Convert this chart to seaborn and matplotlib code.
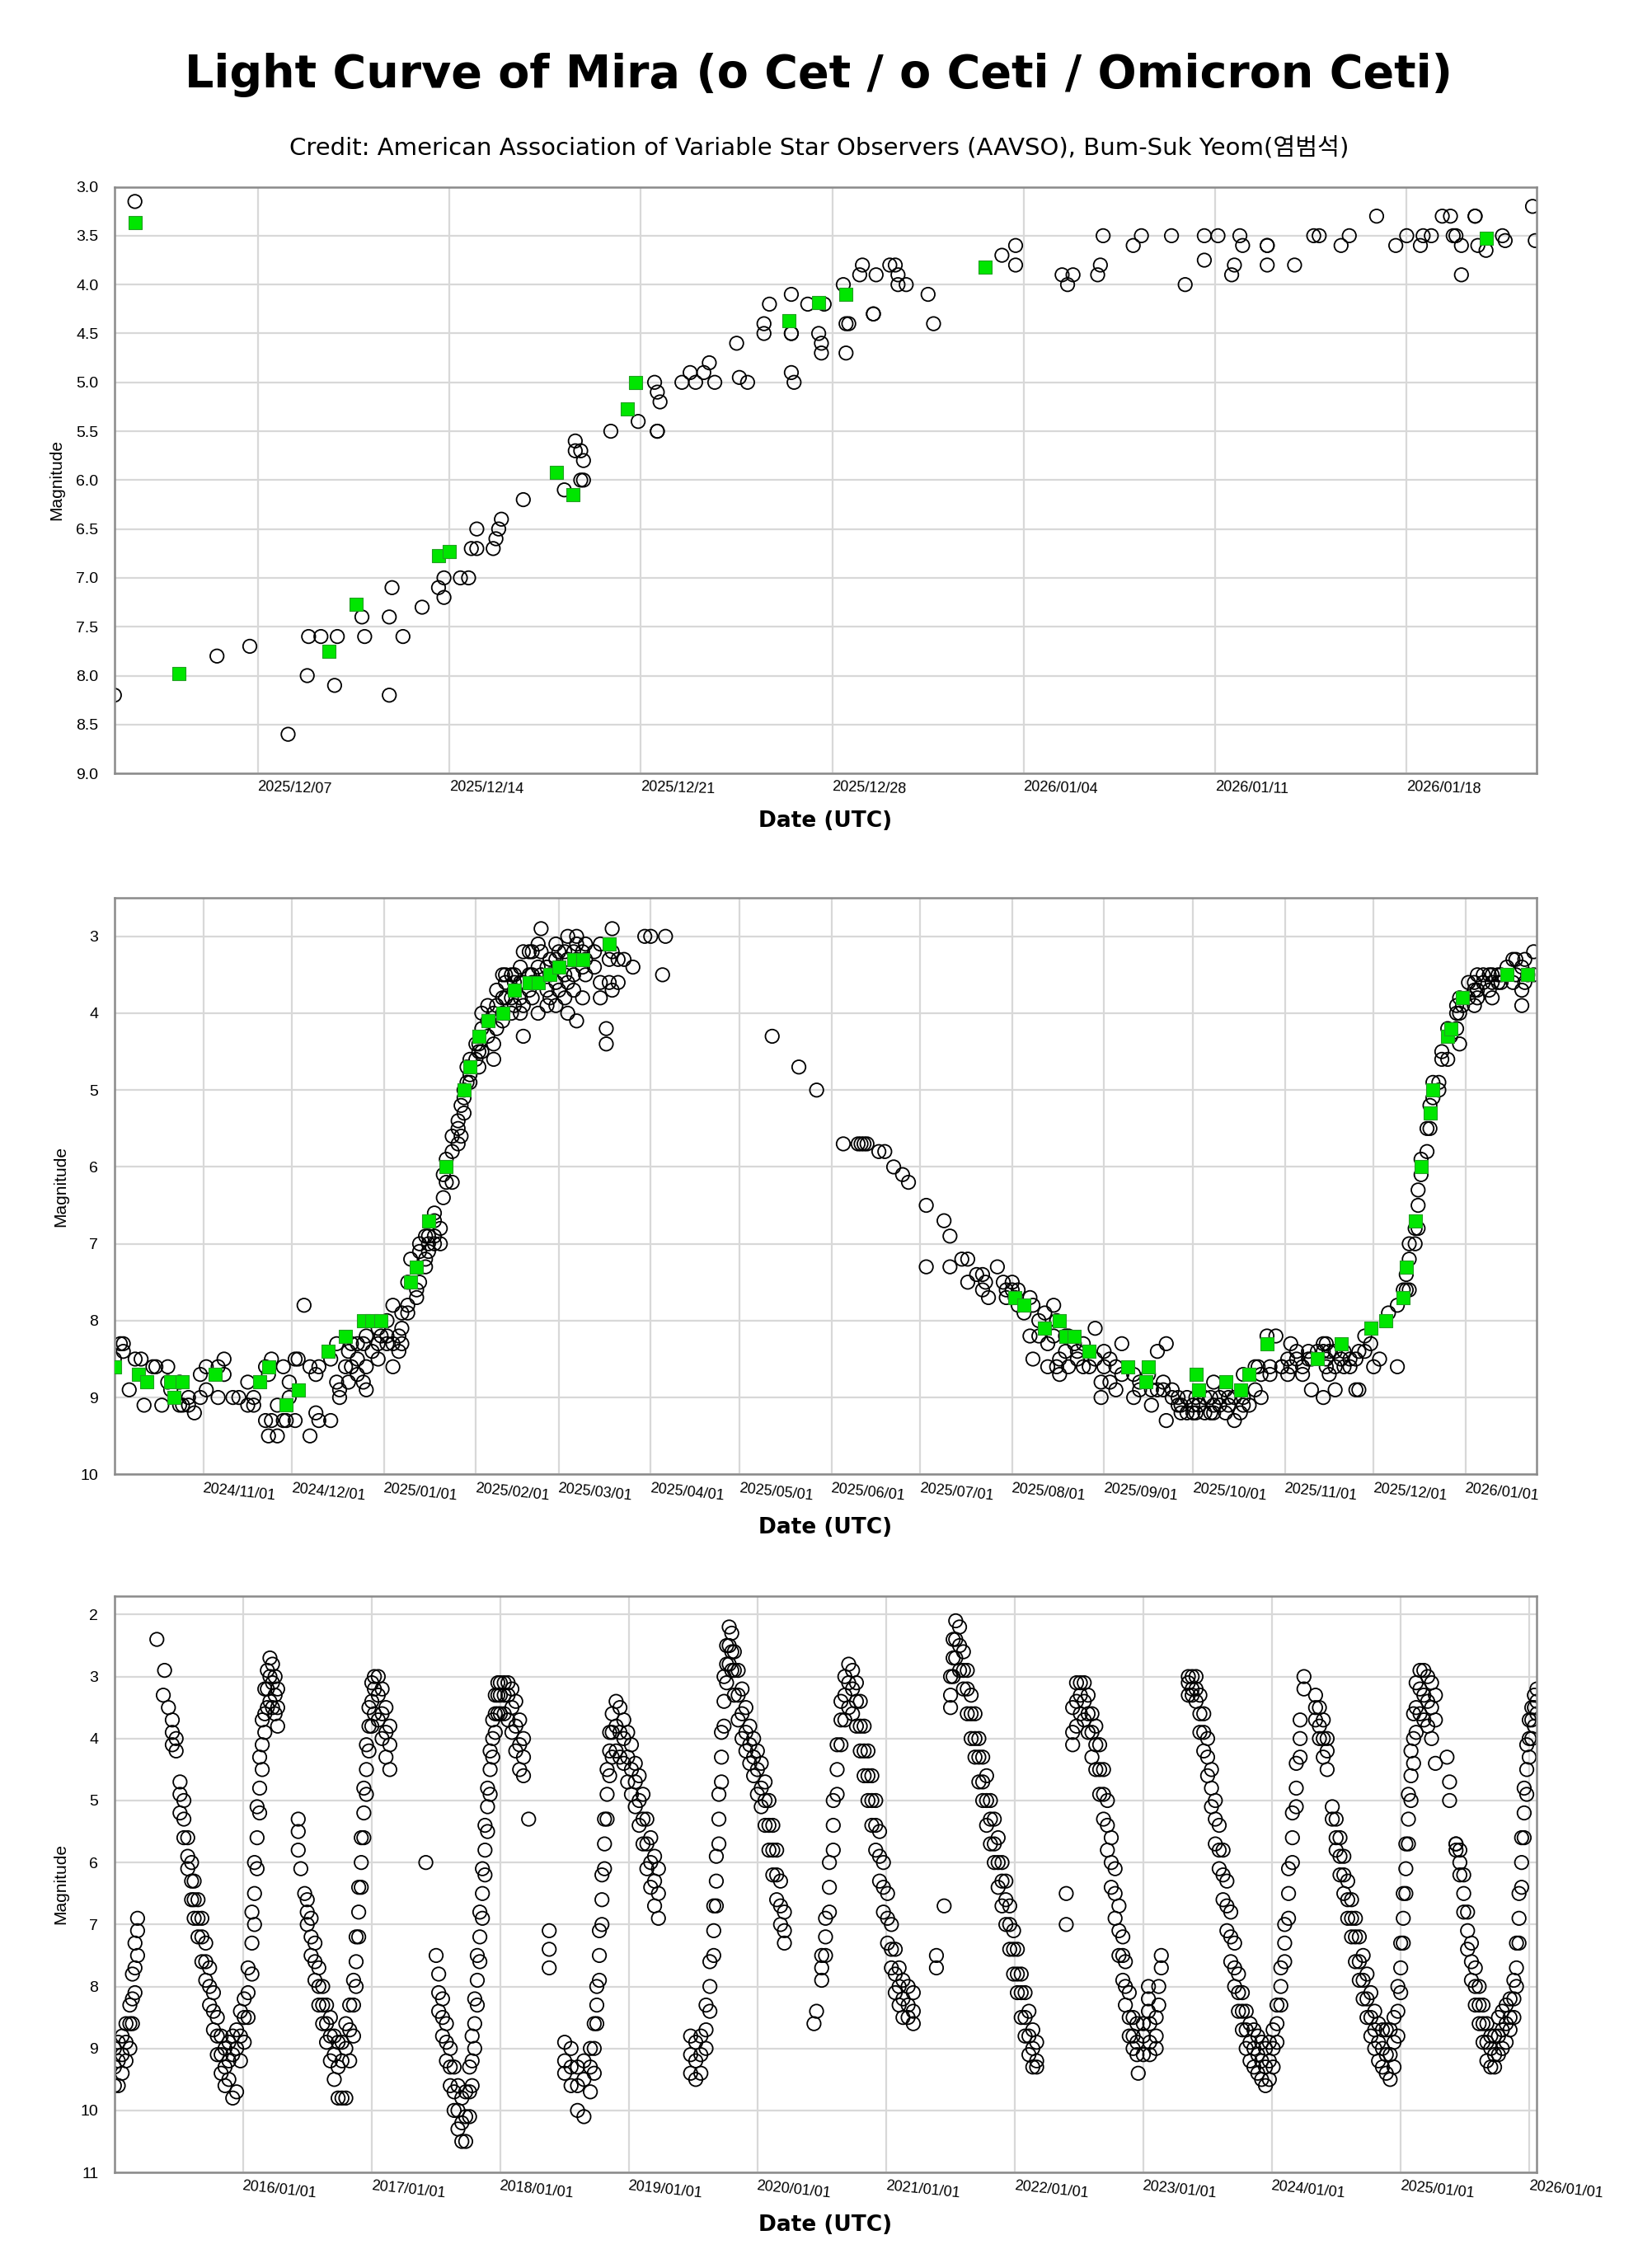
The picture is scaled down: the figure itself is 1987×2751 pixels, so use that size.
import numpy as np
import pandas as pd
import matplotlib
matplotlib.use("Agg")
import matplotlib.pyplot as plt
import matplotlib.dates as mdates
import seaborn as sns

sns.set_theme(style="white")
plt.rcParams['font.family'] = ['DejaVu Sans', 'Noto Sans CJK KR']
plt.rcParams['text.color'] = 'black'
plt.rcParams['axes.labelcolor'] = 'black'
plt.rcParams['xtick.color'] = 'black'
plt.rcParams['ytick.color'] = 'black'

# ---------------- panel 1: last ~7 weeks (days since 2025-12-01) ----------------
top_vis = """
0.75:8.2; 1.5:3.15; 4.5:7.8; 5.7:7.7; 7.1:8.6; 7.8:8.0; 7.85:7.6; 8.3:7.6; 8.8:8.1; 8.9:7.6;
9.8:7.4; 9.9:7.6; 10.8:8.2,7.4; 10.9:7.1; 11.3:7.6; 12.0:7.3; 12.6:7.1; 12.8:7.0,7.2;
13.4:7.0; 13.7:7.0; 13.8:6.7; 14.0:6.7,6.5; 14.6:6.7; 14.7:6.6; 14.8:6.5; 14.9:6.4; 15.7:6.2;
17.2:6.1; 17.6:5.6,5.7; 17.8:6.0,5.7; 17.9:5.8,6.0; 18.9:5.5; 19.9:5.4; 20.5:5.0; 20.6:5.1,5.5,5.5;
20.7:5.2; 21.5:5.0; 21.8:4.9; 22.0:5.0; 22.3:4.9; 22.5:4.8; 22.7:5.0; 23.5:4.6; 23.6:4.95; 23.9:5.0;
24.5:4.4,4.5; 24.7:4.2; 25.5:4.5,4.5,4.9,4.1; 25.6:5.0; 26.1:4.2; 26.5:4.5; 26.6:4.6,4.7; 26.7:4.2;
27.4:4.0; 27.5:4.4,4.7; 27.6:4.4; 28.0:3.9; 28.1:3.8; 28.5:4.3,4.3; 28.6:3.9; 29.1:3.8; 29.3:3.8;
29.4:4.0,3.9; 29.7:4.0; 30.5:4.1; 30.7:4.4; 33.2:3.7; 33.7:3.8,3.6; 35.4:3.9; 35.6:4.0; 35.8:3.9;
36.7:3.9; 36.8:3.8; 36.9:3.5; 38.0:3.6; 38.3:3.5; 39.4:3.5; 39.9:4.0; 40.6:3.75,3.5; 41.1:3.5;
41.6:3.9; 41.7:3.8; 41.9:3.5; 42.0:3.6; 42.9:3.6,3.6,3.8; 43.9:3.8; 44.6:3.5; 44.8:3.5; 45.6:3.6;
45.9:3.5; 46.9:3.3; 47.6:3.6; 48.0:3.5; 48.5:3.6; 48.6:3.5; 48.9:3.5; 49.3:3.3; 49.6:3.3;
49.7:3.5; 49.8:3.5; 50.0:3.9,3.6; 50.5:3.3,3.3; 50.6:3.6; 50.9:3.65; 51.5:3.5; 51.6:3.55;
52.6:3.2; 52.7:3.55
"""
top_green = """
1.5:3.37; 3.1:7.98; 8.6:7.75; 9.6:7.27; 12.6:6.77; 13.0:6.73; 16.9:5.92; 17.5:6.15; 19.5:5.27;
19.8:5.0; 25.4:4.37; 26.5:4.18; 27.5:4.1; 32.6:3.82; 50.9:3.53
"""

# ---------------- panel 2: last ~15 months (days since 2024-11-01) ----------------
mid_vis = """
-30:8.5; -28:8.3; -27:8.3,8.4; -25:8.9; -23:8.5; -21:8.5; -20:9.1; -17:8.6; -16:8.6; -14:9.1;
-12:8.6,8.8; -11:8.9; -8:8.8,9.1; -7:9.1; -5:9.1,9.0; -3:9.2; -1:8.7,9.0; 1:8.6,8.9; 5:8.6,9.0;
7:8.5,8.7; 10:9.0; 12:9.0; 15:9.1,8.8; 17:9.1,9.0; 21:9.3,8.6; 22:9.5,8.7; 23:8.5,9.3; 25:9.5,9.1;
27:9.3,8.6; 28:9.3; 29:9.0,8.8; 31:8.5,9.3; 32:8.5; 34:7.8; 36:8.6,9.5; 38:8.7,9.2; 39:9.3,8.6;
43:8.5,9.3; 45:8.3,8.8; 46:9.0,8.9; 48:8.6; 49:8.4,8.8; 50:8.3,8.6; 52:8.3,8.7,8.5; 54:8.3,8.8;
55:8.2,8.6,8.9; 57:8.4; 59:8.1,8.5,8.3; 60:8.2; 62:8.0,8.2,8.3; 64:7.8,8.3,8.6; 66:8.2,8.4;
67:7.9,8.1,8.3; 69:7.5,7.8,7.9; 70:7.2; 72:7.6,7.7; 73:7.0,7.1,7.5; 75:7.2,6.9,7.3; 76:6.9,7.0,7.1;
78:6.7,6.6,7.0,6.9; 80:6.8,7.0; 81:6.1,6.4; 82:5.9,6.2; 84:5.6,5.8,6.2; 86:5.4,5.5,5.7; 87:5.2,5.6;
88:5.0,5.3,5.1; 89:4.7,4.9; 90:4.6,4.8,4.9; 92:4.4,4.6; 93:4.5,4.7,4.4; 94:4.2,4.0,4.5;
96:3.9,4.1,4.3; 98:4.0,4.4,4.6; 99:3.9,3.7,4.2; 101:3.5,3.8,4.0,4.1; 102:3.6,3.8,3.5;
104:3.5,3.8,4.0; 105:3.5,3.7,3.9,3.6; 107:3.4,3.6,3.8,4.0; 108:3.2,3.6,3.9,4.3; 110:3.5,3.7,3.2;
111:3.2,3.5,3.8,3.6; 113:3.1,3.4,3.6,4.0; 114:2.9,3.2,3.5; 116:3.4,3.7,3.9; 117:3.3,3.5,3.8;
119:3.1,3.3,3.6,3.9; 120:3.2,3.4,3.7; 122:3.2,3.5,3.8; 123:3.0,3.3,3.6,4.0; 125:3.2,3.5,3.7;
126:3.0,3.1,3.3,4.1; 128:3.2,3.4,3.8; 129:3.1,3.3,3.5; 132:3.2,3.4; 134:3.1,3.6,3.8; 136:4.2,4.4;
137:3.3,3.6; 138:2.9,3.2,3.7; 140:3.3,3.6; 142:3.3; 145:3.4; 149:3.0; 151:3.0; 155:3.5; 156:3.0;
192:4.3; 201:4.7; 207:5.0; 216:5.7; 221:5.7; 222:5.7; 223:5.7; 224:5.7; 228:5.8; 230:5.8; 233:6.0;
236:6.1; 238:6.2; 244:6.5,7.3; 250:6.7; 252:6.9,7.3; 256:7.2; 258:7.2,7.5; 261:7.4; 263:7.4,7.6;
264:7.5; 265:7.7; 268:7.3; 270:7.5; 271:7.6,7.7; 273:7.5,7.6; 274:7.7; 275:7.6,7.8; 277:7.9;
279:7.7,8.2; 280:7.8,8.5; 282:8.0,8.2; 284:7.9; 285:8.3,8.6; 287:7.8,8.2; 288:8.6,8.0; 289:8.5,8.7;
291:8.2,8.4; 292:8.2,8.6; 294:8.3; 295:8.4,8.5; 297:8.3,8.6; 299:8.6; 301:8.1,8.5; 303:9.0,8.8;
304:8.6,8.4; 306:8.8,8.5; 308:8.9,8.6; 310:8.3,8.7; 314:8.7,9.0; 316:8.9,8.8; 319:8.7; 320:9.1,8.9;
322:8.4,8.9; 324:8.8,8.9; 325:8.3,9.3; 327:8.9,9.0; 329:9.0,9.1; 330:9.1,9.2; 332:9.2,9.0;
334:9.1,9.2; 335:9.2,9.0; 336:9.1; 338:9.0,9.2; 340:9.2,9.0; 341:9.1,9.2,8.8; 343:9.0,9.1;
345:9.2,8.9; 346:9.0,9.1; 348:9.3,9.0; 350:9.2; 351:9.0,9.1,8.7; 353:9.1; 355:8.9,8.6; 356:8.6;
357:8.7,9.0; 359:8.2; 360:8.6,8.7; 362:8.2; 364:8.6,8.6; 366:8.5,8.7; 367:8.6,8.3; 369:8.4,8.5;
371:8.6,8.7; 373:8.5,8.4; 374:8.9,8.5; 376:8.4; 378:8.3,8.4,9.0; 379:8.5,8.6,8.3; 380:8.4,8.7;
382:8.4,8.6,8.9; 384:8.5; 385:8.4,8.6; 387:8.6,8.5; 389:8.5,8.9; 390:8.4,8.9; 392:8.2,8.4; 394:8.3;
395:8.6; 397:8.5; 400:7.9; 403:7.8,8.6; 405:7.6; 406:7.6,7.4; 407:7.0,7.6,7.2; 409:6.8,7.0;
410:6.5,6.3,6.8; 411:6.1,5.9; 413:5.8,5.5; 414:5.5,5.2; 415:5.1,4.9; 417:4.9,5.0; 418:4.6,4.5;
420:4.2,4.6; 421:4.3; 423:3.9,4.0,4.2; 424:3.8,4.0,4.4; 425:3.9; 427:3.8,3.6; 429:3.7,3.6,3.9;
430:3.5,3.7,3.8; 432:3.5,3.6; 434:3.5,3.7; 435:3.5,3.6,3.8; 437:3.5,3.6; 438:3.5,3.6; 440:3.4;
442:3.3,3.6; 443:3.3,3.5; 445:3.4,3.7,3.9; 446:3.3,3.6; 447:3.5; 449:3.2,3.5
"""
mid_green = """
-30:8.6; -22:8.7; -19:8.8; -11:8.8; -10:9.0; -7:8.8; 4:8.7; 19:8.8; 22:8.6; 28:9.1; 32:8.9; 42:8.4;
48:8.2; 54:8.0; 57:8.0; 60:8.0; 70:7.5; 72:7.3; 76:6.7; 82:6.0; 88:5.0; 90:4.7; 93:4.3; 96:4.1;
101:4.0; 105:3.7; 110:3.6; 113:3.6; 117:3.5; 120:3.4; 125:3.3; 128:3.3; 137:3.1;
274:7.7; 277:7.8; 284:8.1; 289:8.0; 291:8.2; 294:8.2; 299:8.4; 312:8.6; 318:8.8; 319:8.6;
335:8.7; 336:8.9; 345:8.8; 350:8.9; 353:8.7; 359:8.3; 376:8.5; 384:8.3; 394:8.1; 399:8.0;
405:7.7; 406:7.3; 409:6.7; 411:6.0; 414:5.3; 415:5.0; 420:4.3; 421:4.2; 425:3.8; 440:3.5; 447:3.5
"""

# ---------------- panel 3: 2015-2026 (decimal years) ----------------
long_vis = """
2015.00:9.0,9.3,9.6; 2015.03:8.9,9.2,9.6; 2015.06:8.8,9.1,9.4; 2015.09:8.6,8.9,9.2; 2015.12:8.3,8.6,9.0;
2015.14:7.8,8.2,8.6; 2015.16:7.3,7.7,8.1; 2015.18:6.9,7.1,7.5;
2015.33:2.4; 2015.38:3.3; 2015.39:2.9; 2015.42:3.5; 2015.45:3.7,3.9,4.1; 2015.48:4.0,4.2;
2015.51:4.7,4.9,5.2; 2015.54:5.0,5.3,5.6; 2015.57:5.6,5.9,6.1; 2015.60:6.0,6.3,6.6; 2015.62:6.3,6.6,6.9;
2015.65:6.6,6.9,7.2; 2015.68:6.9,7.2,7.6; 2015.71:7.3,7.6,7.9; 2015.74:7.7,8.0,8.3; 2015.77:8.1,8.4,8.7;
2015.80:8.5,8.8,9.1; 2015.83:8.8,9.1,9.4; 2015.86:9.0,9.3,9.6; 2015.89:8.9,9.2,9.5; 2015.92:8.8,9.1,9.8;
2015.95:8.7,9.0,9.7; 2015.98:8.4,8.8,9.2; 2016.01:8.2,8.5,8.9; 2016.04:7.7,8.1,8.5; 2016.07:6.8,7.3,7.8;
2016.09:6.0,6.5,7.0; 2016.11:5.1,5.6,6.1; 2016.13:4.3,4.8,5.2; 2016.15:3.7,4.1,4.5; 2016.17:3.2,3.6,3.9;
2016.19:2.9,3.2,3.5; 2016.21:2.7,3.0,3.4; 2016.23:2.8,3.1,3.5; 2016.25:3.0,3.3,3.6; 2016.27:3.2,3.5,3.8;
2016.43:5.3,5.5,5.8; 2016.45:6.1; 2016.48:6.5; 2016.50:6.6,6.8,7.0; 2016.53:6.9,7.2,7.5; 2016.56:7.3,7.6,7.9;
2016.59:7.7,8.0,8.3; 2016.62:8.0,8.3,8.6; 2016.65:8.3,8.6,8.9; 2016.68:8.5,8.8,9.2; 2016.71:8.8,9.1,9.5;
2016.74:8.9,9.3,9.8; 2016.77:8.9,9.2,9.8; 2016.80:8.6,9.0,9.8; 2016.83:8.3,8.7,9.2; 2016.86:7.9,8.3,8.8;
2016.88:7.2,7.6,8.0; 2016.90:6.4,6.8,7.2; 2016.92:5.6,6.0,6.4; 2016.94:4.8,5.2,5.6; 2016.96:4.1,4.5,4.9;
2016.98:3.5,3.8,4.2; 2017.00:3.1,3.4,3.8; 2017.02:3.0,3.2,3.6; 2017.05:3.0,3.3,3.7; 2017.08:3.2,3.6,4.0;
2017.11:3.5,3.9,4.3; 2017.14:3.8,4.1,4.5;
2017.42:6.0; 2017.50:7.5; 2017.52:7.8,8.1,8.4; 2017.55:8.2,8.5,8.8; 2017.58:8.6,8.9,9.2; 2017.61:9.0,9.3,9.6;
2017.64:9.3,9.7,10.0; 2017.67:9.6,10.0,10.3; 2017.70:9.8,10.2,10.5; 2017.73:9.7,10.1,10.5;
2017.76:9.3,9.7,10.1; 2017.78:8.8,9.2,9.6; 2017.80:8.2,8.6,9.0; 2017.82:7.5,7.9,8.3; 2017.84:6.8,7.2,7.6;
2017.86:6.1,6.5,6.9; 2017.88:5.4,5.8,6.2; 2017.90:4.8,5.1,5.5; 2017.92:4.2,4.5,4.9; 2017.94:3.7,4.0,4.3;
2017.96:3.3,3.6,3.9; 2017.98:3.1,3.3,3.6; 2018.00:3.1,3.3,3.6; 2018.03:3.1,3.3,3.6; 2018.06:3.1,3.3,3.7;
2018.09:3.2,3.5,3.9; 2018.12:3.4,3.8,4.2; 2018.15:3.7,4.1,4.5; 2018.18:4.0,4.3,4.6; 2018.22:5.3;
2018.38:7.1,7.4,7.7;
2018.50:8.9,9.2,9.4; 2018.55:9.0,9.3,9.6; 2018.60:9.3,9.6,10.0; 2018.65:9.2,9.5,10.1; 2018.70:9.0,9.3,9.7;
2018.73:8.6,9.0,9.4; 2018.75:8.0,8.3,8.6; 2018.77:7.1,7.5,7.9; 2018.79:6.2,6.6,7.0; 2018.81:5.3,5.7,6.1;
2018.83:4.5,4.9,5.3; 2018.85:3.9,4.2,4.6; 2018.87:3.6,3.9,4.3; 2018.90:3.4,3.8,4.2; 2018.93:3.5,3.9,4.3;
2018.96:3.7,4.0,4.4; 2018.99:3.9,4.3,4.7; 2019.02:4.1,4.5,4.9; 2019.05:4.4,4.7,5.1; 2019.08:4.6,5.0,5.4;
2019.11:4.9,5.3,5.7; 2019.14:5.3,5.7,6.1; 2019.17:5.6,6.0,6.4; 2019.20:5.9,6.3,6.7; 2019.23:6.1,6.5,6.9;
2019.48:8.8,9.1,9.4; 2019.52:8.9,9.2,9.5; 2019.56:8.8,9.1,9.4; 2019.60:8.3,8.7,9.0; 2019.63:7.6,8.0,8.4;
2019.66:6.7,7.1,7.5; 2019.68:5.9,6.3,6.7; 2019.70:4.9,5.3,5.7; 2019.72:3.9,4.3,4.7; 2019.74:3.0,3.4,3.8;
2019.76:2.5,2.8,3.1; 2019.78:2.2,2.5,2.8; 2019.80:2.3,2.6,2.9; 2019.82:2.6,2.9,3.3; 2019.85:2.9,3.3,3.7;
2019.88:3.2,3.6,4.0; 2019.91:3.5,3.9,4.2; 2019.94:3.8,4.1,4.4; 2019.97:4.0,4.3,4.6; 2020.00:4.2,4.5,4.9;
2020.03:4.4,4.8,5.1; 2020.06:4.7,5.0,5.4; 2020.09:5.0,5.4,5.8; 2020.12:5.4,5.8,6.2; 2020.15:5.8,6.2,6.6;
2020.18:6.3,6.7,7.0; 2020.21:6.8,7.1,7.3;
2020.44:8.6; 2020.46:8.4; 2020.50:7.5,7.7,7.9; 2020.53:6.9,7.2,7.5; 2020.56:6.0,6.4,6.8; 2020.59:5.0,5.4,5.8;
2020.62:4.1,4.5,4.9; 2020.65:3.4,3.7,4.1; 2020.68:3.0,3.3,3.7; 2020.71:2.8,3.1,3.5; 2020.74:2.9,3.2,3.6;
2020.77:3.1,3.4,3.8; 2020.80:3.4,3.8,4.2; 2020.83:3.8,4.2,4.6; 2020.86:4.2,4.6,5.0; 2020.89:4.6,5.0,5.4;
2020.92:5.0,5.4,5.8; 2020.95:5.5,5.9,6.3; 2020.98:6.0,6.4,6.8; 2021.01:6.5,6.9,7.3; 2021.04:7.0,7.4,7.7;
2021.07:7.4,7.8,8.1; 2021.10:7.7,8.0,8.3; 2021.13:7.9,8.2,8.5; 2021.17:8.0,8.3,8.5; 2021.21:8.1,8.4,8.6;
2021.39:7.5,7.7; 2021.45:6.7;
2021.50:3.0,3.3,3.5; 2021.52:2.4,2.7,3.0; 2021.54:2.1,2.4,2.7; 2021.57:2.2,2.5,2.9; 2021.60:2.6,2.9,3.2;
2021.63:2.9,3.2,3.6; 2021.66:3.3,3.6,4.0; 2021.69:3.6,4.0,4.3; 2021.72:4.0,4.3,4.7; 2021.75:4.3,4.7,5.0;
2021.78:4.6,5.0,5.4; 2021.81:5.0,5.3,5.7; 2021.84:5.3,5.7,6.0; 2021.87:5.6,6.0,6.4; 2021.90:6.0,6.3,6.7;
2021.93:6.3,6.6,7.0; 2021.96:6.7,7.0,7.4; 2021.99:7.1,7.4,7.8; 2022.02:7.4,7.8,8.1; 2022.05:7.8,8.1,8.5;
2022.08:8.1,8.5,8.8; 2022.11:8.4,8.8,9.1; 2022.14:8.7,9.0,9.3; 2022.17:8.9,9.2,9.3;
2022.40:6.5,7.0;
2022.45:3.5,3.9,4.1; 2022.48:3.1,3.4,3.8; 2022.51:3.1,3.3,3.6; 2022.54:3.1,3.4,3.7; 2022.57:3.3,3.6,3.9;
2022.60:3.6,3.9,4.3; 2022.63:3.8,4.1,4.5; 2022.66:4.1,4.5,4.9; 2022.69:4.5,4.9,5.3; 2022.72:5.0,5.4,5.8;
2022.75:5.6,6.0,6.4; 2022.78:6.1,6.5,6.9; 2022.81:6.7,7.1,7.5; 2022.84:7.2,7.5,7.9; 2022.86:7.6,8.0,8.3;
2022.89:8.1,8.5,8.8; 2022.92:8.5,8.8,9.0; 2022.95:8.6,8.9,9.1; 2022.96:9.4; 2023.00:8.6,8.8,9.1;
2023.04:8.0,8.2,8.4; 2023.05:8.6,8.9,9.1; 2023.10:8.5,8.8,9.0; 2023.12:8.0,8.3; 2023.14:7.5,7.7;
2023.35:3.0,3.1,3.3; 2023.38:3.0,3.2,3.3; 2023.41:3.0,3.2,3.4; 2023.44:3.3,3.6,3.9; 2023.47:3.6,3.9,4.2;
2023.50:4.0,4.3,4.6; 2023.53:4.5,4.8,5.1; 2023.56:5.0,5.3,5.7; 2023.59:5.4,5.8,6.1; 2023.62:5.8,6.2,6.6;
2023.65:6.3,6.7,7.1; 2023.68:6.8,7.2,7.6; 2023.71:7.3,7.7,8.0; 2023.74:7.8,8.1,8.4; 2023.77:8.1,8.4,8.7;
2023.80:8.4,8.7,9.0; 2023.83:8.6,8.9,9.2; 2023.86:8.7,9.0,9.3; 2023.89:8.8,9.1,9.4; 2023.92:8.9,9.2,9.5;
2023.95:9.0,9.3,9.6; 2023.98:8.9,9.2,9.5; 2024.01:8.7,9.0,9.3; 2024.04:8.3,8.6,8.9; 2024.07:7.7,8.0,8.3;
2024.10:7.0,7.3,7.6; 2024.13:6.1,6.5,6.9; 2024.16:5.2,5.6,6.0; 2024.19:4.4,4.8,5.1; 2024.22:3.7,4.0,4.3;
2024.25:3.0,3.2;
2024.34:3.3,3.5,3.7; 2024.37:3.5,3.8,4.0; 2024.40:3.7,4.0,4.3; 2024.43:4.0,4.2,4.5; 2024.47:5.1,5.3;
2024.50:5.3,5.6,5.8; 2024.53:5.6,5.9,6.2; 2024.56:5.9,6.2,6.5; 2024.59:6.3,6.6,6.9; 2024.62:6.6,6.9,7.2;
2024.65:6.9,7.2,7.6; 2024.68:7.2,7.6,7.9; 2024.71:7.5,7.9,8.2; 2024.74:7.8,8.2,8.5; 2024.77:8.1,8.5,8.8;
2024.80:8.4,8.7,9.0; 2024.83:8.6,8.9,9.2; 2024.86:8.7,9.0,9.3; 2024.89:8.7,9.1,9.4; 2024.92:8.7,9.1,9.5;
2024.95:8.5,8.9,9.3; 2024.98:8.0,8.4,8.8; 2025.00:7.3,7.7,8.1; 2025.02:6.5,6.9,7.3; 2025.04:5.7,6.1,6.5;
2025.06:4.9,5.3,5.7; 2025.08:4.2,4.6,5.0; 2025.10:3.6,4.0,4.4; 2025.12:3.1,3.5,3.9; 2025.15:2.9,3.2,3.6;
2025.18:2.9,3.3,3.7; 2025.21:3.0,3.4,3.8; 2025.24:3.1,3.5,4.0; 2025.27:3.3,3.7,4.4;
2025.36:4.3; 2025.38:4.7,5.0;
2025.43:5.7,5.7,5.8; 2025.46:5.8,6.0,6.2; 2025.49:6.2,6.5,6.8; 2025.52:6.8,7.1,7.4; 2025.55:7.3,7.6,7.9;
2025.58:7.7,8.0,8.3; 2025.61:8.0,8.3,8.6; 2025.64:8.3,8.6,8.9; 2025.67:8.6,8.9,9.2; 2025.70:8.8,9.0,9.3;
2025.73:8.8,9.1,9.3; 2025.76:8.5,8.8,9.1; 2025.79:8.4,8.7,9.0; 2025.82:8.3,8.6,8.9; 2025.85:8.2,8.5,8.7;
2025.88:7.9,8.2,8.5; 2025.90:7.3,7.7,8.0; 2025.92:6.5,6.9,7.3; 2025.94:5.6,6.0,6.4; 2025.96:4.8,5.2,5.6;
2025.98:4.1,4.5,4.9; 2026.00:3.7,4.0,4.3; 2026.02:3.5,3.7,4.0; 2026.04:3.3,3.5,3.8; 2026.06:3.2,3.4,3.6
"""


def parse_block(text):
    xs, ys = [], []
    for item in text.replace("\n", " ").split(";"):
        item = item.strip()
        if not item:
            continue
        t, mags = item.split(":")
        for m in mags.split(","):
            xs.append(float(t))
            ys.append(float(m))
    return np.array(xs), np.array(ys)


def days_to_dates(base, days):
    return pd.Timestamp(base) + pd.to_timedelta(days, unit="D")


def years_to_dates(years):
    yi = np.floor(years).astype(int)
    out = [pd.Timestamp(f"{y}-01-01") + pd.Timedelta(days=float(f) * 365.25)
           for y, f in zip(yi, years - yi)]
    return pd.DatetimeIndex(out)


tx, ty = parse_block(top_vis)
gx, gy = parse_block(top_green)
df_top = pd.DataFrame({"date": days_to_dates("2025-12-01", tx), "mag": ty})
df_top_g = pd.DataFrame({"date": days_to_dates("2025-12-01", gx), "mag": gy})

mx, my = parse_block(mid_vis)
mgx, mgy = parse_block(mid_green)
df_mid = pd.DataFrame({"date": days_to_dates("2024-11-01", mx), "mag": my})
df_mid_g = pd.DataFrame({"date": days_to_dates("2024-11-01", mgx), "mag": mgy})

lx, ly = parse_block(long_vis)
df_long = pd.DataFrame({"date": years_to_dates(lx), "mag": ly})

# ---------------- figure ----------------
W, H = 1131, 1566  # layout reference units
fig = plt.figure(figsize=(19.87, 27.51), dpi=100)


def axes_box(x0, x1, y0, y1):
    return [x0 / W, 1 - y1 / H, (x1 - x0) / W, (y1 - y0) / H]


TICK_FAM = ['Liberation Sans', 'DejaVu Sans']
grid_col = "#d8d8d8"


def style_axes(ax):
    ax.grid(True, color=grid_col, linewidth=1.6)
    ax.set_axisbelow(True)
    for s in ax.spines.values():
        s.set_color("#8a8a8a")
        s.set_linewidth(1.8)
    ax.tick_params(axis="y", direction="in", length=8, color="#8a8a8a", pad=14)
    ax.tick_params(axis="x", length=0, pad=6)
    ax.set_ylabel("Magnitude", fontsize=15, family=TICK_FAM, labelpad=10)
    for lab in ax.get_yticklabels():
        lab.set_fontsize(14)
        lab.set_family(TICK_FAM)


def style_dates(ax, rot):
    for lab in ax.get_xticklabels():
        lab.set_fontsize(13); lab.set_ha("left"); lab.set_rotation(rot)
        lab.set_rotation_mode("anchor"); lab.set_family(TICK_FAM)
    ax.set_xlabel("Date (UTC)", fontsize=19, fontweight="bold", labelpad=12)


circle_kw = dict(marker="o", s=140, facecolor="none", edgecolor="black", linewidth=1.3)
square_kw = dict(marker="s", s=130, color="#00e600", edgecolor="#22a022", linewidth=0.8)

# panel 1
ax1 = fig.add_axes(axes_box(79, 1061, 129, 534))
sns.scatterplot(data=df_top, x="date", y="mag", ax=ax1, **circle_kw)
sns.scatterplot(data=df_top_g, x="date", y="mag", ax=ax1, **square_kw, zorder=3)
ax1.set_xlim(pd.Timestamp("2025-12-01 18:00"), pd.Timestamp("2026-01-22 18:00"))
ax1.set_ylim(9.0, 3.0)
ax1.set_yticks(np.arange(3.0, 9.01, 0.5))
ax1.yaxis.set_major_formatter(matplotlib.ticker.FormatStrFormatter("%.1f"))
ax1.set_xticks(pd.to_datetime(["2025-12-07", "2025-12-14", "2025-12-21", "2025-12-28",
                               "2026-01-04", "2026-01-11", "2026-01-18"]))
ax1.xaxis.set_major_formatter(mdates.DateFormatter("%Y/%m/%d"))
style_axes(ax1)
style_dates(ax1, -2)

# panel 2
ax2 = fig.add_axes(axes_box(79, 1061, 620, 1018))
sns.scatterplot(data=df_mid, x="date", y="mag", ax=ax2, **circle_kw)
sns.scatterplot(data=df_mid_g, x="date", y="mag", ax=ax2, **square_kw, zorder=3)
ax2.set_xlim(pd.Timestamp("2024-10-02"), pd.Timestamp("2026-01-25"))
ax2.set_ylim(10, 2.5)
ax2.set_yticks(range(3, 11))
ax2.set_xticks(pd.date_range("2024-11-01", "2026-01-01", freq="MS"))
ax2.xaxis.set_major_formatter(mdates.DateFormatter("%Y/%m/%d"))
style_axes(ax2)
style_dates(ax2, -6)

# panel 3
ax3 = fig.add_axes(axes_box(79, 1061, 1102, 1500))
sns.scatterplot(data=df_long, x="date", y="mag", ax=ax3, **circle_kw)
ax3.set_xlim(pd.Timestamp("2015-01-01"), pd.Timestamp("2026-01-22"))
ax3.set_ylim(11, 1.7)
ax3.set_yticks(range(2, 12))
ax3.set_xticks(pd.date_range("2016-01-01", "2026-01-01", freq="YS"))
ax3.xaxis.set_major_formatter(mdates.DateFormatter("%Y/%m/%d"))
style_axes(ax3)
style_dates(ax3, -6)

fig.text(0.5, 1 - 52 / H, "Light Curve of Mira (ο Cet / ο Ceti / Omicron Ceti)",
         ha="center", va="center", fontsize=40, fontweight="bold", color="black")
fig.text(0.5, 1 - 102 / H,
         "Credit: American Association of Variable Star Observers (AAVSO), Bum-Suk Yeom(염범석)",
         ha="center", va="center", fontsize=21, color="black",
         family=['DejaVu Sans', 'Noto Sans CJK KR'])

fig.savefig("out.png", dpi=100, facecolor="white")
